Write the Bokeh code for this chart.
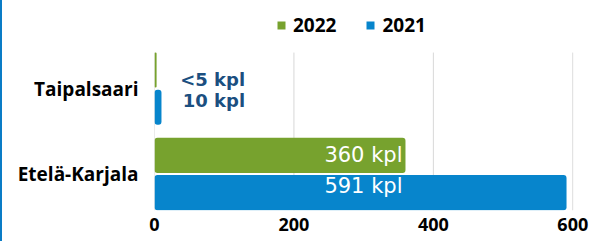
from bokeh.plotting import figure
from bokeh.models import (ColumnDataSource, Range1d, FixedTicker, Legend, LegendItem)
from bokeh.core.properties import value
from bokeh.transform import dodge
from bokeh.embed import file_html
from bokeh.resources import INLINE

# ---- data ----
categories = ["Taipalsaari", "Etelä-Karjala"]
values_2022 = [3, 360]          # "<5" shown for Taipalsaari
values_2021 = [10, 591]
labels_2022 = ["<5 kpl", "360 kpl"]
labels_2021 = ["10 kpl", "591 kpl"]
series_names = ["2022", "2021"]
x_ticks = [0, 200, 400, 600]

GREEN = "#77a22e"
BLUE = "#0785cc"
DARK = "#1b4f80"

# category position: first category on top
ypos = [len(categories) - 1 - i for i in range(len(categories))]

src = ColumnDataSource(dict(
    y=ypos, cat=categories,
    v22=values_2022, v21=values_2021,
    l22=labels_2022, l21=labels_2021,
))

Y_BOTTOM, Y_PLOT_TOP, Y_TOP = -0.427, 1.421, 2.03
X_END = 601

p = figure(width=590, height=241, output_backend="svg", toolbar_location=None,
           x_range=Range1d(0, X_END), y_range=Range1d(Y_BOTTOM, Y_TOP),
           min_border_left=152, min_border_right=19, min_border_top=0,
           min_border_bottom=31)
p.styles = {"border-left": "2px solid #0a7cc6"}
p.outline_line_color = None
p.background_fill_color = "white"

# grid lines only over the bar area
p.segment(x0=x_ticks, y0=[Y_BOTTOM] * len(x_ticks), x1=x_ticks,
          y1=[Y_PLOT_TOP] * len(x_ticks), line_color="#d8d8d8", line_width=1)

BAR_H = 0.41
OFF = 0.218
r22 = p.hbar(y=dodge("y", OFF, range=p.y_range), left=0, right="v22", height=BAR_H,
             source=src, fill_color=GREEN, line_color=None, border_radius=3)
r21 = p.hbar(y=dodge("y", -OFF, range=p.y_range), left=0, right="v21", height=BAR_H,
             source=src, fill_color=BLUE, line_color=None, border_radius=3)

# ---- data labels ----
small = [i for i, v in enumerate(values_2021) if v < 100]
big = [i for i, v in enumerate(values_2021) if v >= 100]

small_src = ColumnDataSource(dict(
    x=[130] * (2 * len(small)),
    y=[ypos[i] + OFF for i in small] + [ypos[i] - OFF for i in small],
    t=[labels_2022[i] for i in small] + [labels_2021[i] for i in small],
    yo=[10] * len(small) + [-7] * len(small),
))
p.text(x="x", y="y", text="t", source=small_src, y_offset="yo",
       text_align="right", text_baseline="middle",
       text_font=value("DejaVu Sans"), text_font_style="bold",
       text_font_size="18px", text_color=DARK)

big_src = ColumnDataSource(dict(
    x=[min(values_2022[i], values_2021[i]) for i in big] * 2,
    y=[ypos[i] + OFF for i in big] + [ypos[i] - OFF for i in big],
    t=[labels_2022[i] for i in big] + [labels_2021[i] for i in big],
    yo=[0] * len(big) + [-7] * len(big),
))
p.text(x="x", y="y", text="t", source=big_src, x_offset=-3, y_offset="yo",
       text_align="right", text_baseline="middle",
       text_font=value("DejaVu Sans"), text_font_size="21px", text_color="white")

# ---- axes ----
p.xaxis.ticker = FixedTicker(ticks=x_ticks)
p.xaxis.axis_line_color = None
p.xaxis.major_tick_line_color = None
p.xaxis.minor_tick_line_color = None
p.xaxis.major_tick_out = 0
p.xaxis.major_tick_in = 0
p.xaxis.major_label_standoff = 7
p.xaxis.major_label_text_font = "Open Sans"
p.xaxis.major_label_text_font_style = "bold"
p.xaxis.major_label_text_font_size = "18px"
p.xaxis.major_label_text_color = "black"

p.yaxis.ticker = FixedTicker(ticks=ypos)
p.yaxis.major_label_overrides = {y: c for y, c in zip(ypos, categories)}
p.yaxis.axis_line_color = None
p.yaxis.major_tick_line_color = None
p.yaxis.minor_tick_line_color = None
p.yaxis.major_tick_out = 0
p.yaxis.major_tick_in = 0
p.yaxis.major_label_standoff = 16
p.yaxis.major_label_text_font = "Open Sans"
p.yaxis.major_label_text_font_style = "bold"
p.yaxis.major_label_text_font_size = "19px"
p.yaxis.major_label_text_color = "black"

p.xgrid.grid_line_color = None
p.ygrid.grid_line_color = None

# ---- legend ----
legend = Legend(items=[LegendItem(label=series_names[0], renderers=[r22]),
                       LegendItem(label=series_names[1], renderers=[r21])],
                orientation="horizontal", location=(122, 172),
                glyph_width=10, glyph_height=10, label_standoff=7, spacing=29,
                padding=0, margin=0, border_line_color=None,
                background_fill_alpha=0,
                label_text_font="Open Sans", label_text_font_style="bold",
                label_text_font_size="19px", label_text_color="black")
p.add_layout(legend, "center")

open("out.html", "w").write(file_html(p, INLINE))
